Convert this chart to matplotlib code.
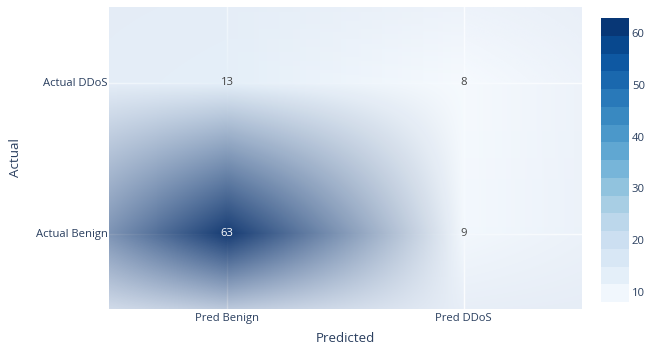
import matplotlib
matplotlib.use("Agg")
import matplotlib.pyplot as plt
import numpy as np
from matplotlib.colors import LinearSegmentedColormap

x_labels = ["Pred Benign", "Pred DDoS"]
y_labels = ["Actual Benign", "Actual DDoS"]
# rows follow y_labels (bottom to top)
counts = [[63, 9],
          [13, 8]]

blues = ["#f7fbff", "#deebf7", "#c6dbef", "#9ecae1", "#6baed6",
         "#4292c6", "#2171b5", "#08519c", "#08306b"]
cmap = LinearSegmentedColormap.from_list("blues", blues)
bg = "#E5ECF6"
txt = "#2a3f5f"
plt.rcParams["font.family"] = ["Open Sans", "DejaVu Sans"]

W, H = 645, 351
L, R, T, B = 109, 582, 7, 309
fig = plt.figure(figsize=(W / 100, H / 100), dpi=100)
ax = fig.add_axes([L / W, 1 - B / H, (R - L) / W, (B - T) / H])
ax.set_facecolor(bg)

z = np.array(counts, dtype=float)
zmin, zmax = z.min(), z.max()
nx, ny = len(x_labels), len(y_labels)

# smoothed heatmap: cell colours blended linearly (premultiplied),
# fading to transparent past the outer cells
pw, ph = R - L, B - T
cols = cmap((z[::-1] - zmin) / (zmax - zmin))[..., :3]  # top row first
tex = np.zeros((ny + 2, nx + 2, 4))
tex[1:-1, 1:-1, :3] = cols
tex[1:-1, 1:-1, 3] = 1.0

kx = np.r_[-0.5, np.arange(nx) + 0.5, nx + 0.5]
ky = np.r_[-0.5, np.arange(ny) + 0.5, ny + 0.125]
u = (np.arange(pw) + 0.5) / pw * nx
v = (np.arange(ph) + 0.5) / ph * ny
wx = np.stack([np.interp(u, kx, np.eye(len(kx))[k]) for k in range(len(kx))], axis=1)
wy = np.stack([np.interp(v, ky, np.eye(len(ky))[k]) for k in range(len(ky))], axis=1)
img = np.einsum("yi,ijc,xj->yxc", wy, tex, wx)
alpha = np.clip(img[..., 3], 1e-6, 1)
rgb = np.clip(img[..., :3] / alpha[..., None], 0, 1)
opacity = 0.94
rgba = np.dstack([rgb, alpha * opacity])

ax.imshow(rgba, extent=(-0.5, nx - 0.5, -0.5, ny - 0.5), origin="upper",
          interpolation="nearest", aspect="auto", zorder=2)

ax.set_xlim(-0.5, nx - 0.5)
ax.set_ylim(-0.5, ny - 0.5)
ax.set_xticks(range(nx))
ax.set_xticklabels(x_labels)
ax.set_yticks(range(ny))
ax.set_yticklabels(y_labels)
ax.grid(True, color="white", linewidth=1, zorder=1)
ax.set_axisbelow(True)
ax.tick_params(length=0, labelsize=8.1, labelcolor=txt, pad=3)
ax.tick_params(axis="y", pad=1)
for s in ax.spines.values():
    s.set_visible(False)
ax.set_xlabel("Predicted", fontsize=9.6, color=txt, labelpad=6)
ax.set_ylabel("Actual", fontsize=9.6, color=txt, labelpad=10)

for i in range(ny):
    for j in range(nx):
        val = counts[i][j]
        c = "white" if (val - zmin) / (zmax - zmin) > 0.5 else "#444444"
        ax.text(j, i, str(val), ha="center", va="center", fontsize=8.1,
                color=c, zorder=3)

# colorbar drawn as stacked bands
cax = fig.add_axes([601 / W, 1 - 302 / H, 28 / W, (302 - 18) / H])
nb = 16
edges = np.linspace(zmin, zmax, nb + 1)
mids = (edges[:-1] + edges[1:]) / 2
for k in range(nb):
    cax.axhspan(edges[k], edges[k + 1], color=cmap((mids[k] - zmin) / (zmax - zmin)), lw=0)
cax.set_ylim(zmin, zmax)
cax.set_xlim(0, 1)
cax.set_xticks([])
cax.yaxis.tick_right()
cax.set_yticks([10, 20, 30, 40, 50, 60])
cax.tick_params(length=0, labelsize=8.1, labelcolor=txt, pad=2)
for s in cax.spines.values():
    s.set_visible(False)

fig.savefig("out.png", dpi=100)
